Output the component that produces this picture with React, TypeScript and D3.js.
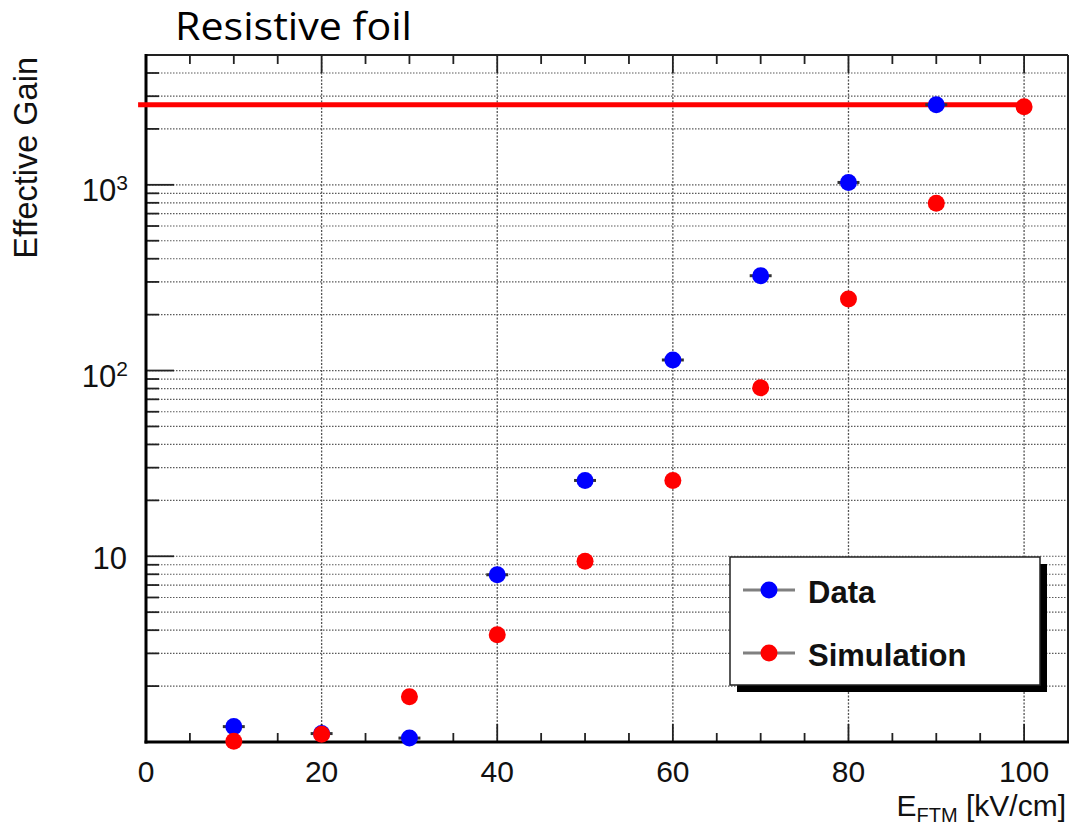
import React from 'react';
import * as d3 from 'd3';

// E_FTM in kV/cm
const dataField = [10, 20, 30, 40, 50, 60, 70, 80, 90];
const dataGain = [1.21, 1.11, 1.05, 7.95, 25.6, 114, 324, 1030, 2700];
const simField = [10, 20, 30, 40, 50, 60, 70, 80, 90, 100];
const simGain = [1.01, 1.1, 1.75, 3.78, 9.4, 25.6, 80.7, 243, 795, 2630];
const limitGain = 2700;
const limitRange = [-0.9, 99.5];
const xLabels = ['0', '20', '40', '60', '80', '100'];
const yLabels = [
  { v: 10, base: '10', exp: '' },
  { v: 100, base: '10', exp: '2' },
  { v: 1000, base: '10', exp: '3' },
];
const legendItems = [
  { name: 'Data', color: '#0000ff' },
  { name: 'Simulation', color: '#ff0000' },
];

const W = 1073;
const H = 828;
const frame = { left: 146, right: 1068, top: 55, bottom: 742 };
const helv = '"Liberation Sans", Arial, Helvetica, sans-serif';

export default function App() {
  const x = d3.scaleLinear().domain([0, 105]).range([frame.left, frame.right]);
  const y = d3.scaleLog().domain([1, 5000]).range([frame.bottom, frame.top]);

  const yTicks = y.ticks().filter((t) => t > 1 && t < 5000);
  const isMajorY = (t: number) => Math.abs(Math.log10(t) - Math.round(Math.log10(t))) < 1e-9;
  const xTicks = x.ticks(20).filter((t) => t <= 100);
  const xMajor = xTicks.filter((t) => t % 20 === 0);

  const gridStyle = { stroke: '#5a5a5a', strokeWidth: 1.2, strokeDasharray: '1.5,1.5' };

  return (
    <svg width={W} height={H} style={{ position: 'absolute', left: 0, top: 0, background: '#fff' }}>
      <rect width={W} height={H} fill="#fff" />
      <text x={175} y={40} fontFamily='"Open Sans", sans-serif' fontSize={38} textLength={237}
        lengthAdjust="spacingAndGlyphs" fill="#000">
        Resistive foil
      </text>

      {/* horizontal grid */}
      {yTicks.map((t, i) => (
        <line key={'hg' + i} x1={frame.left} x2={frame.right} y1={y(t)} y2={y(t)} style={gridStyle} />
      ))}
      {/* vertical grid */}
      {xMajor.filter((t) => t > 0).map((t, i) => (
        <line key={'vg' + i} x1={x(t)} x2={x(t)} y1={frame.top} y2={frame.bottom}
          style={{ stroke: '#555', strokeWidth: 1.3, strokeDasharray: '2,1.5' }} />
      ))}

      {/* y ticks */}
      {yTicks.map((t, i) => (
        <line key={'yt' + i} x1={frame.left} x2={frame.left + (isMajorY(t) ? 28 : 13)} y1={y(t)} y2={y(t)}
          stroke="#222" strokeWidth={1.8} />
      ))}
      {/* x ticks bottom and top */}
      {xTicks.map((t, i) => {
        const len = t % 20 === 0 ? 18 : 9;
        return (
          <g key={'xt' + i}>
            <line x1={x(t)} x2={x(t)} y1={frame.bottom} y2={frame.bottom - len} stroke="#222" strokeWidth={1.8} />
            <line x1={x(t)} x2={x(t)} y1={frame.top} y2={frame.top + len} stroke="#222" strokeWidth={1.8} />
          </g>
        );
      })}

      {/* frame */}
      <line x1={frame.left} x2={frame.right} y1={frame.top} y2={frame.top} stroke="#222" strokeWidth={2} />
      <line x1={frame.right} x2={frame.right} y1={frame.top} y2={frame.bottom} stroke="#222" strokeWidth={2} />
      <line x1={frame.left} x2={frame.left} y1={frame.top - 1} y2={frame.bottom + 1.5} stroke="#000" strokeWidth={3} />
      <line x1={frame.left - 1.5} x2={frame.right + 1} y1={frame.bottom} y2={frame.bottom} stroke="#000" strokeWidth={3} />

      {/* tick labels */}
      {xMajor.map((t, i) => (
        <text key={'xl' + i} x={x(t)} y={782} textAnchor="middle" fontFamily={helv} fontSize={30} fill="#111">
          {xLabels[i]}
        </text>
      ))}
      {yLabels.map((d, i) => (
        <text key={'yl' + i} x={d.exp ? 128 : 127} y={y(d.v) + (d.exp ? 16 : 13)} textAnchor="end"
          fontFamily={helv} fontSize={31} fill="#111">
          <tspan>{d.base}</tspan>
          {d.exp && <tspan dy={-11} fontSize={21}>{d.exp}</tspan>}
        </text>
      ))}

      {/* axis titles */}
      <text x={1066} y={816} textAnchor="end" fontFamily={helv} fontSize={30} fill="#111">
        <tspan>E</tspan>
        <tspan dy={6} fontSize={20}>FTM</tspan>
        <tspan dy={-6}> [kV/cm]</tspan>
      </text>
      <text transform={`translate(37, ${frame.top + 2}) rotate(-90)`} textAnchor="end" fontFamily={helv} fontSize={32.5} fill="#111">
        Effective Gain
      </text>

      {/* red reference line */}
      <line x1={x(limitRange[0])} x2={x(limitRange[1])} y1={y(limitGain)} y2={y(limitGain)} stroke="#ff0000" strokeWidth={5} />

      {/* data points */}
      {dataField.map((f, i) => (
        <g key={'dp' + i}>
          <line x1={x(f - 1.25)} x2={x(f + 1.25)} y1={y(dataGain[i])} y2={y(dataGain[i])} stroke="#333" strokeWidth={3} />
          <circle cx={x(f)} cy={y(dataGain[i])} r={8.5} fill="#0000ff" />
        </g>
      ))}
      {simField.map((f, i) => (
        <circle key={'sp' + i} cx={x(f)} cy={y(simGain[i])} r={8.5} fill="#ff0000" />
      ))}

      {/* legend */}
      <rect x={737} y={564} width={310} height={128} fill="#000" />
      <rect x={730} y={557} width={310} height={128} fill="#fff" stroke="#222" strokeWidth={1.5} />
      {legendItems.map((d, i) => {
        const ly = 590 + i * 63;
        return (
          <g key={'lg' + i}>
            <line x1={743} x2={795} y1={ly} y2={ly} stroke="#808080" strokeWidth={3} />
            <circle cx={769} cy={ly} r={8.5} fill={d.color} />
            <text x={808} y={ly + 13} fontFamily={helv} fontWeight="bold" fontSize={31} fill="#111">
              {d.name}
            </text>
          </g>
        );
      })}
    </svg>
  );
}
